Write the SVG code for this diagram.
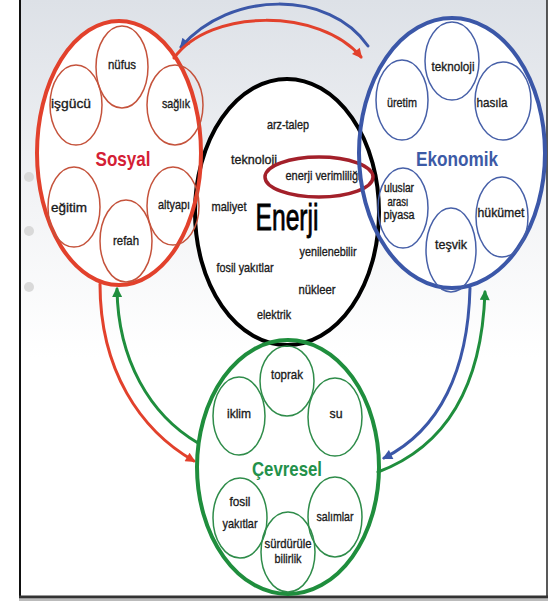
<svg xmlns="http://www.w3.org/2000/svg" width="558" height="603" viewBox="0 0 558 603">
<defs>
<linearGradient id="bg" x1="0" y1="0" x2="0" y2="1">
<stop offset="0" stop-color="#dde1e7"/>
<stop offset="0.35" stop-color="#f3f4f6"/>
<stop offset="0.6" stop-color="#ffffff"/>
</linearGradient>
<marker id="mr" viewBox="0 0 10 10" refX="8" refY="5" markerWidth="12" markerHeight="10" orient="auto" markerUnits="userSpaceOnUse"><path d="M0,0 L10,5 L0,10 z" fill="#e2412c"/></marker>
<marker id="mb" viewBox="0 0 10 10" refX="8" refY="5" markerWidth="12" markerHeight="10" orient="auto" markerUnits="userSpaceOnUse"><path d="M0,0 L10,5 L0,10 z" fill="#3b57a8"/></marker>
<marker id="mg" viewBox="0 0 10 10" refX="8" refY="5" markerWidth="12" markerHeight="10" orient="auto" markerUnits="userSpaceOnUse"><path d="M0,0 L10,5 L0,10 z" fill="#1f8e3d"/></marker>
</defs>
<style>
.lbl{font-family:"Liberation Sans",Arial,sans-serif;font-size:13.5px;fill:#1a1a1a;stroke:#1a1a1a;stroke-width:0.35;text-anchor:middle}
.sm{font-size:12px}
.big{font-family:"Liberation Sans",Arial,sans-serif;font-weight:bold;font-size:21px;text-anchor:middle}
.in{fill:none;stroke-width:1.5}
.r{stroke:#e2412c}
.ri{stroke:#c5533c}
.b{stroke:#3b57a8}
.bi{stroke:#4760a8}
.g{stroke:#1f8e3d}
.gi{stroke:#2f8c4a}
.con{fill:none;stroke-width:3;stroke-linecap:round}
</style>
<rect x="0" y="0" width="558" height="603" fill="#ffffff"/>
<rect x="20" y="0" width="527" height="597" fill="url(#bg)"/>
<line x1="20" y1="0" x2="20" y2="598" stroke="#111" stroke-width="2"/>
<line x1="547" y1="0" x2="547" y2="598" stroke="#222" stroke-width="1.5"/>
<line x1="19" y1="597" x2="548" y2="597" stroke="#333" stroke-width="3"/>
<line x1="19" y1="600" x2="548" y2="600" stroke="#bbb" stroke-width="2"/>
<circle cx="29" cy="177" r="5" fill="#d9d9d9"/>
<circle cx="29" cy="231" r="5" fill="#d9d9d9"/>
<circle cx="29" cy="287" r="5" fill="#d9d9d9"/>

<g id="fills">
<ellipse cx="287" cy="212" rx="92" ry="133" fill="#fff"/>
<ellipse cx="288" cy="467" rx="91" ry="127" fill="#fff"/>
<ellipse cx="119" cy="153" rx="82" ry="132" fill="#fff"/>
<ellipse cx="452" cy="153" rx="93" ry="135" fill="#fff"/>
</g>

<g id="connectors">
<path class="con" d="M 368 46 C 330 -10, 230 -10, 181 47" stroke="#3b57a8" marker-end="url(#mb)"/>
<path class="con" d="M 174 58 C 210 8, 320 8, 361 57" stroke="#e2412c" marker-end="url(#mr)"/>
<path class="con" d="M 100 284 C 100 370, 140 430, 194 461" stroke="#e2412c" marker-end="url(#mr)"/>
<path class="con" d="M 198 443 C 150 415, 118 360, 117 289" stroke="#1f8e3d" marker-end="url(#mg)"/>
<path class="con" d="M 470 288 C 468 370, 440 430, 384 458" stroke="#3b57a8" marker-end="url(#mb)"/>
<path class="con" d="M 378 472 C 450 445, 482 380, 485 292" stroke="#1f8e3d" marker-end="url(#mg)"/>
</g>

<g id="enerji">
<ellipse cx="287" cy="212" rx="92" ry="133" fill="none" stroke="#000" stroke-width="4"/>
<text class="lbl" x="288" y="129" textLength="42" lengthAdjust="spacingAndGlyphs">arz-talep</text>
<text class="lbl" x="254" y="164" textLength="46" lengthAdjust="spacingAndGlyphs">teknoloji</text>
<text class="lbl" x="323" y="180" textLength="75" lengthAdjust="spacingAndGlyphs">enerji verimliliği</text>
<text class="lbl" x="229" y="211" textLength="35" lengthAdjust="spacingAndGlyphs">maliyet</text>
<text x="287" y="230" font-family="Liberation Sans,Arial,sans-serif" font-size="37" fill="#000" stroke="#000" stroke-width="0.8" text-anchor="middle" textLength="63" lengthAdjust="spacingAndGlyphs">Enerji</text>
<text class="lbl" x="328" y="256" textLength="57" lengthAdjust="spacingAndGlyphs">yenilenebilir</text>
<text class="lbl" x="245" y="272" textLength="57" lengthAdjust="spacingAndGlyphs">fosil yakıtlar</text>
<text class="lbl" x="317" y="294" textLength="37" lengthAdjust="spacingAndGlyphs">nükleer</text>
<text class="lbl" x="274" y="319" textLength="34" lengthAdjust="spacingAndGlyphs">elektrik</text>
<ellipse cx="319" cy="177" rx="54" ry="20" fill="none" stroke="#a3202a" stroke-width="3.5"/>
</g>

<g id="cevresel">
<ellipse cx="288" cy="467" rx="91" ry="127" fill="none" class="g" stroke-width="4"/>
<ellipse class="in gi" cx="287" cy="381" rx="27" ry="35"/>
<ellipse class="in gi" cx="239" cy="416" rx="26" ry="39"/>
<ellipse class="in gi" cx="335" cy="417" rx="27" ry="39"/>
<ellipse class="in gi" cx="240" cy="518" rx="27" ry="40"/>
<ellipse class="in gi" cx="335" cy="517" rx="27" ry="40"/>
<ellipse class="in gi" cx="288" cy="552" rx="27" ry="40"/>
<text class="lbl" x="287" y="379" textLength="32" lengthAdjust="spacingAndGlyphs">toprak</text>
<text class="lbl" x="239" y="418" textLength="24" lengthAdjust="spacingAndGlyphs">iklim</text>
<text class="lbl" x="336" y="418" textLength="13" lengthAdjust="spacingAndGlyphs">su</text>
<text class="big" x="287" y="476" fill="#23914a" textLength="70" lengthAdjust="spacingAndGlyphs">Çevresel</text>
<text class="lbl" x="240" y="506" textLength="21" lengthAdjust="spacingAndGlyphs">fosil</text>
<text class="lbl" x="240" y="528" textLength="35" lengthAdjust="spacingAndGlyphs">yakıtlar</text>
<text class="lbl" x="335" y="521" textLength="37" lengthAdjust="spacingAndGlyphs">salımlar</text>
<text class="lbl" x="288" y="548" textLength="47" lengthAdjust="spacingAndGlyphs">sürdürüle</text>
<text class="lbl" x="288" y="563" textLength="27" lengthAdjust="spacingAndGlyphs">bilirlik</text>
</g>

<g id="sosyal">
<ellipse cx="119" cy="153" rx="82" ry="132" fill="none" class="r" stroke-width="4"/>
<ellipse class="in ri" cx="122" cy="67" rx="26" ry="41"/>
<ellipse class="in ri" cx="76" cy="105" rx="26" ry="40"/>
<ellipse class="in ri" cx="175" cy="105" rx="28" ry="40"/>
<ellipse class="in ri" cx="74" cy="207" rx="26" ry="40"/>
<ellipse class="in ri" cx="173" cy="206" rx="26" ry="39"/>
<ellipse class="in ri" cx="126" cy="241" rx="26" ry="41"/>
<text class="lbl" x="122" y="69" textLength="28" lengthAdjust="spacingAndGlyphs">nüfus</text>
<text class="lbl" x="71" y="108" textLength="40" lengthAdjust="spacingAndGlyphs">işgücü</text>
<text class="lbl" x="176" y="108" textLength="28" lengthAdjust="spacingAndGlyphs">sağlık</text>
<text class="big" x="123" y="166" fill="#d42035" textLength="55" lengthAdjust="spacingAndGlyphs">Sosyal</text>
<text class="lbl" x="69" y="212" textLength="36" lengthAdjust="spacingAndGlyphs">eğitim</text>
<text class="lbl" x="174" y="209" textLength="32" lengthAdjust="spacingAndGlyphs">altyapı</text>
<text class="lbl" x="126" y="245" textLength="26" lengthAdjust="spacingAndGlyphs">refah</text>
</g>

<g id="ekonomik">
<ellipse cx="452" cy="153" rx="93" ry="135" fill="none" class="b" stroke-width="4"/>
<ellipse class="in bi" cx="452" cy="61" rx="27" ry="39"/>
<ellipse class="in bi" cx="402" cy="100" rx="26" ry="40"/>
<ellipse class="in bi" cx="503" cy="101" rx="28" ry="39"/>
<ellipse class="in bi" cx="403" cy="208" rx="25" ry="40"/>
<ellipse class="in bi" cx="502" cy="217" rx="26" ry="40"/>
<ellipse class="in bi" cx="451" cy="250" rx="25" ry="42"/>
<text class="lbl" x="453" y="71" textLength="43" lengthAdjust="spacingAndGlyphs">teknoloji</text>
<text class="lbl" x="402" y="107" textLength="30" lengthAdjust="spacingAndGlyphs">üretim</text>
<text class="lbl" x="492" y="107" textLength="31" lengthAdjust="spacingAndGlyphs">hasıla</text>
<text class="big" x="457" y="166" fill="#3c5aa6" textLength="82" lengthAdjust="spacingAndGlyphs">Ekonomik</text>
<text class="lbl sm" x="399" y="192" textLength="30" lengthAdjust="spacingAndGlyphs">uluslar</text>
<text class="lbl sm" x="398" y="205.5" textLength="21" lengthAdjust="spacingAndGlyphs">arası</text>
<text class="lbl sm" x="399" y="219" textLength="31" lengthAdjust="spacingAndGlyphs">piyasa</text>
<text class="lbl" x="501" y="217" textLength="47" lengthAdjust="spacingAndGlyphs">hükümet</text>
<text class="lbl" x="451" y="249" textLength="32" lengthAdjust="spacingAndGlyphs">teşvik</text>
</g>
</svg>
